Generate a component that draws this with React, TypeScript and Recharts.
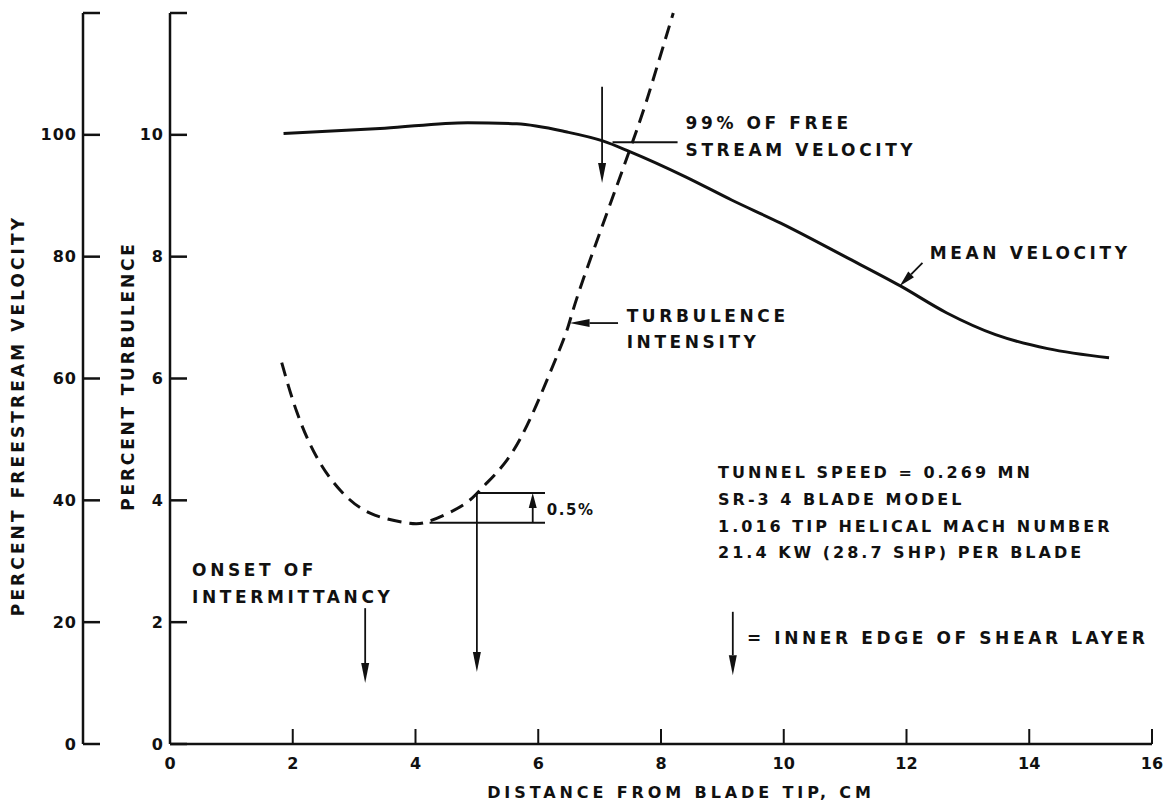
import React from 'react';
import { LineChart, Line, XAxis, YAxis, ReferenceLine, ReferenceDot } from 'recharts';

const INK = '#111';
const FONT = '"DejaVu Sans", Verdana, sans-serif';

// mean velocity, percent of freestream, vs distance from blade tip (cm)
const velocityX = [1.85, 3.5, 4.85, 5.65, 6.45, 7.05, 7.5, 8.4, 9.15, 9.95, 11.0, 11.9, 12.65, 13.45, 14.3, 15.3];
const velocityPct = [100.2, 101.1, 102.0, 101.8, 100.5, 99.0, 97.2, 93.1, 89.3, 85.5, 80.0, 75.2, 70.8, 67.2, 64.9, 63.4];

// turbulence intensity, percent
const turbX = [1.82, 2.07, 2.39, 2.77, 3.26, 3.86, 4.23, 4.77, 5.1, 5.49, 5.86, 6.19, 6.47, 6.73, 7.49, 7.87, 8.2];
const turbPct = [6.26, 5.44, 4.71, 4.17, 3.79, 3.63, 3.66, 3.92, 4.22, 4.66, 5.32, 6.09, 6.8, 7.62, 9.75, 10.9, 12.0];

const xTicks = [0, 2, 4, 6, 8, 10, 12, 14, 16];
const turbTicks = [0, 2, 4, 6, 8, 10, 12];
const velTicks = [0, 20, 40, 60, 80, 100, 120];

// annotations, in (cm, percent turbulence)
const arrows = [
  { from: [7.04, 10.79], to: [7.04, 9.21] },
  { from: [12.26, 7.9], to: [11.89, 7.52] },
  { from: [7.3, 6.91], to: [6.51, 6.91] },
  { from: [3.18, 2.23], to: [3.18, 1.0] },
  { from: [5.0, 4.12], to: [5.0, 1.18] },
  { from: [5.91, 3.63], to: [5.91, 4.12] },
  { from: [9.17, 2.17], to: [9.17, 1.13] },
];
const marks = [
  { from: [7.21, 9.88], to: [8.27, 9.88] },
  { from: [5.02, 4.12], to: [6.11, 4.12] },
  { from: [4.23, 3.63], to: [6.11, 3.63] },
];
const callouts = [
  { x: 8.4, y: 10.2, text: '99% OF FREE' },
  { x: 8.4, y: 9.75, text: 'STREAM VELOCITY' },
  { x: 12.38, y: 8.06, text: 'MEAN VELOCITY' },
  { x: 7.44, y: 7.03, text: 'TURBULENCE' },
  { x: 7.44, y: 6.6, text: 'INTENSITY' },
  { x: 0.36, y: 2.86, text: 'ONSET OF' },
  { x: 0.36, y: 2.41, text: 'INTERMITTANCY' },
  { x: 9.4, y: 1.74, text: '= INNER EDGE OF SHEAR LAYER' },
];
const conditions = [
  { x: 8.93, y: 4.45, text: 'TUNNEL SPEED = 0.269 MN' },
  { x: 8.93, y: 4.01, text: 'SR-3 4 BLADE MODEL' },
  { x: 8.93, y: 3.57, text: '1.016 TIP HELICAL MACH NUMBER' },
  { x: 8.93, y: 3.15, text: '21.4 KW (28.7 SHP) PER BLADE' },
];
const stepNote = { x: 6.14, y: 3.84, text: '0.5%' };

const velocityData = velocityX.map((x, i) => ({ x, v: velocityPct[i] }));
const turbData = turbX.map((x, i) => ({ x, t: turbPct[i] }));

const leftTick = (top: number) => (props: any) => {
  const { x, y, payload } = props;
  return (
    <g>
      <line x1={x} y1={y} x2={x + 17} y2={y} stroke={INK} strokeWidth={2.5} />
      {payload.value !== top && (
        <text x={x - 6} y={y} textAnchor="end" dominantBaseline="central" fontFamily={FONT}
          fontWeight="bold" fontSize={16} letterSpacing={1} fill={INK}>
          {payload.value}
        </text>
      )}
    </g>
  );
};

const bottomTick = (props: any) => {
  const { x, y, payload } = props;
  return (
    <g>
      <line x1={x} y1={y} x2={x} y2={y - 15} stroke={INK} strokeWidth={2} />
      <text x={x} y={y + 19} textAnchor="middle" dominantBaseline="central" fontFamily={FONT}
        fontWeight="bold" fontSize={16} fill={INK}>
        {payload.value}
      </text>
    </g>
  );
};

const axisTitle = (text: string, dx: number, dy: number, rotate: boolean, spacing: number, size: number) => (props: any) => {
  const vb = props.viewBox;
  const cx = rotate ? vb.x + dx : vb.x + vb.width / 2 + dx;
  const cy = rotate ? vb.y + vb.height / 2 + dy : vb.y + dy;
  return (
    <text x={cx} y={cy} textAnchor="middle" dominantBaseline="central" fontFamily={FONT}
      fontWeight="bold" fontSize={size} letterSpacing={spacing} fill={INK}
      transform={rotate ? `rotate(-90 ${cx} ${cy})` : undefined}>
      {text}
    </text>
  );
};

const arrowShape = (props: any) => {
  const { x1, y1, x2, y2 } = props;
  const dx = x2 - x1;
  const dy = y2 - y1;
  const len = Math.hypot(dx, dy) || 1;
  const ux = dx / len;
  const uy = dy / len;
  const head = Math.min(20, len * 0.5);
  const w = 4;
  const bx = x2 - ux * head;
  const by = y2 - uy * head;
  return (
    <g>
      <line x1={x1} y1={y1} x2={bx} y2={by} stroke={INK} strokeWidth={1.8} />
      <polygon points={`${x2},${y2} ${bx - uy * w},${by + ux * w} ${bx + uy * w},${by - ux * w}`} fill={INK} />
    </g>
  );
};

const textShape = (text: string, size: number, spacing: number) => (props: any) => (
  <text x={props.cx} y={props.cy} dominantBaseline="central" fontFamily={FONT} fontWeight="bold"
    fontSize={size} letterSpacing={spacing} fill={INK}>
    {text}
  </text>
);

export default function App() {
  return (
    <div style={{ background: '#fff' }}>
      <LineChart width={1157} height={798} margin={{ top: 5, right: 13, bottom: 0, left: 0 }}>
        <XAxis
          dataKey="x"
          type="number"
          domain={[0, 16]}
          ticks={xTicks}
          interval={0}
          tickSize={0}
          tickMargin={0}
          tickLine={false}
          tick={bottomTick}
          height={62}
          axisLine={{ stroke: INK, strokeWidth: 2.5 }}
          label={{ content: axisTitle('DISTANCE FROM BLADE TIP, CM', 20, 48, false, 3.9, 16) }}
        />
        <YAxis
          yAxisId="t"
          type="number"
          domain={[0, 12]}
          ticks={turbTicks}
          interval={0}
          width={87}
          tickSize={0}
          tickMargin={0}
          tickLine={false}
          tick={leftTick(12)}
          axisLine={{ stroke: INK, strokeWidth: 2.5 }}
          label={{ content: axisTitle('PERCENT TURBULENCE', 45, -2.5, true, 2.8, 17) }}
        />
        <YAxis
          yAxisId="v"
          type="number"
          domain={[0, 120]}
          ticks={velTicks}
          interval={0}
          width={75}
          tickSize={0}
          tickMargin={0}
          tickLine={false}
          tick={leftTick(120)}
          axisLine={{ stroke: INK, strokeWidth: 2.5 }}
          label={{ content: axisTitle('PERCENT FREESTREAM VELOCITY', 10, 37, true, 3.1, 17) }}
        />
        <Line
          yAxisId="v"
          data={velocityData}
          dataKey="v"
          type="monotone"
          stroke={INK}
          strokeWidth={3}
          dot={false}
          activeDot={false}
          isAnimationActive={false}
        />
        <Line
          yAxisId="t"
          data={turbData}
          dataKey="t"
          type="natural"
          stroke={INK}
          strokeWidth={3}
          strokeDasharray="14 8"
          dot={false}
          activeDot={false}
          isAnimationActive={false}
        />
        {marks.map((m, i) => (
          <ReferenceLine
            key={`m${i}`}
            yAxisId="t"
            segment={[{ x: m.from[0], y: m.from[1] }, { x: m.to[0], y: m.to[1] }]}
            stroke={INK}
            strokeWidth={2}
          />
        ))}
        {arrows.map((a, i) => (
          <ReferenceLine
            key={`a${i}`}
            yAxisId="t"
            segment={[{ x: a.from[0], y: a.from[1] }, { x: a.to[0], y: a.to[1] }]}
            shape={arrowShape}
          />
        ))}
        {callouts.map((n, i) => (
          <ReferenceDot key={`c${i}`} yAxisId="t" x={n.x} y={n.y} r={0} shape={textShape(n.text, 17, 3.6)} />
        ))}
        {conditions.map((n, i) => (
          <ReferenceDot key={`k${i}`} yAxisId="t" x={n.x} y={n.y} r={0} shape={textShape(n.text, 16, 3)} />
        ))}
        <ReferenceDot yAxisId="t" x={stepNote.x} y={stepNote.y} r={0} shape={textShape(stepNote.text, 15, 1.5)} />
      </LineChart>
    </div>
  );
}
